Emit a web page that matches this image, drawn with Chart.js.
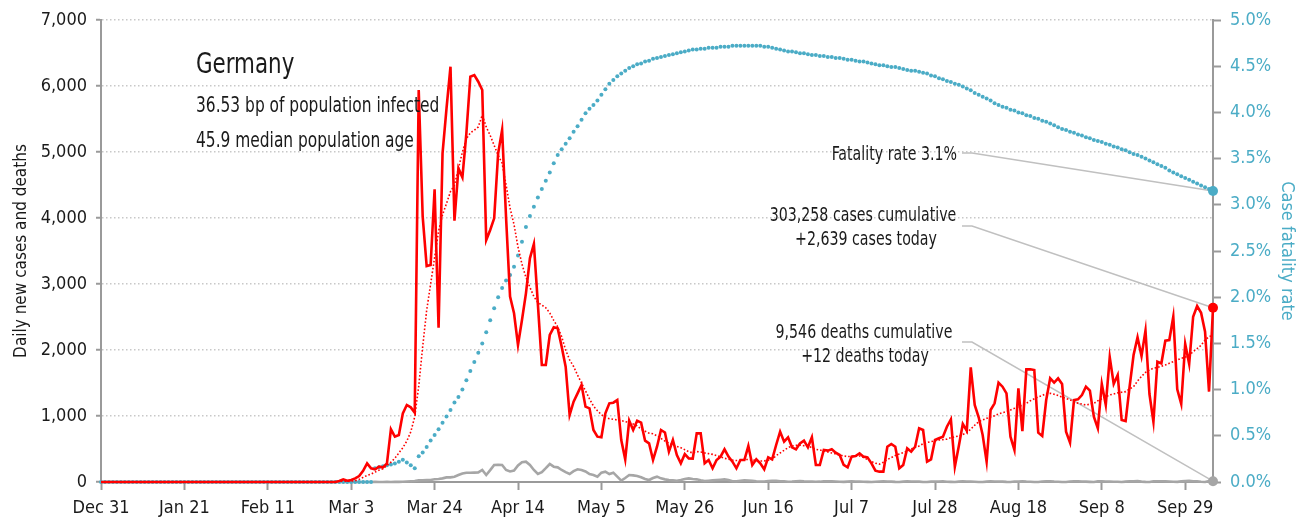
<!DOCTYPE html>
<html>
<head>
<meta charset="utf-8">
<script src="https://cdn.jsdelivr.net/npm/chart.js@4.4.1/dist/chart.umd.min.js"></script>
<style>
  html, body { margin: 0; padding: 0; background: #fff; }
  canvas { display: block; }
</style>
</head>
<body>
<canvas id="chart" width="1307" height="523"></canvas>
<script>
// x axis: day index counted from Dec 31
const tickDays   = [0, 21, 42, 63, 84, 105, 126, 147, 168, 189, 210, 231, 252, 273];
const tickLabels = ["Dec 31", "Jan 21", "Feb 11", "Mar 3", "Mar 24", "Apr 14", "May 5",
                    "May 26", "Jun 16", "Jul 7", "Jul 28", "Aug 18", "Sep 8", "Sep 29"];

// daily new cases, one value per day from Dec 31
const casesDaily = [
  0,0,0,0,0,0,0,0,0,0,
  0,0,0,0,0,0,0,0,0,0,
  0,0,0,0,0,0,0,0,0,0,
  0,0,0,0,0,0,0,0,0,0,
  0,0,0,0,0,0,0,0,0,0,
  0,0,0,0,0,0,0,0,0,0,
  15,40,20,30,55,90,170,283,207,192,
  232,222,283,798,687,712,1040,1167,1131,1050,
  5939,4020,3272,3288,4434,2338,4979,5661,6292,3959,
  4752,4616,5282,6141,6166,6065,5939,3666,3818,3995,
  4979,5333,4000,2808,2556,2076,2454,2858,3389,3606,
  2700,1773,1773,2227,2343,2328,2050,1747,1015,1217,
  1343,1470,1141,1116,788,687,677,1040,1192,1202,
  1242,636,343,929,788,929,899,626,586,333,
  535,788,750,460,636,409,283,424,358,353,
  737,737,283,333,207,333,384,495,384,308,
  207,333,333,545,258,343,283,192,374,343,
  561,763,611,677,525,495,586,626,525,677,
  258,258,485,475,495,444,409,258,222,384,
  394,434,384,374,283,172,157,157,535,576,
  535,207,258,510,460,535,813,788,308,343,
  636,662,687,838,949,232,545,879,778,1737,
  1167,980,712,308,1091,1192,1505,1444,1343,687,
  485,1419,770,1707,1707,1697,747,697,1242,1570,
  1505,1570,1485,763,596,1242,1252,1318,1444,1384,
  990,813,1485,1167,1889,1485,1621,939,924,1444,
  1924,2192,1909,2293,1333,914,1823,1798,2141,2151,
  2505,1404,1182,2091,1788,2505,2666,2565,2278,1369,
  2639
];

// 7-day average of new cases (dotted red)
const casesAvg = [
  null,null,null,null,null,null,0,0,0,0,
  0,0,0,0,0,0,0,0,0,0,
  0,0,0,0,0,0,0,0,0,0,
  0,0,0,0,0,0,0,0,0,0,
  0,0,0,0,0,0,0,0,0,0,
  0,0,0,0,0,0,0,0,0,0,
  5,8,12,15,20,40,70,100,120,150,
  180,200,250,300,360,440,520,620,760,990,
  1450,2050,2600,3000,3400,3800,4050,4220,4400,4500,
  4750,5000,5200,5290,5330,5380,5560,5380,5250,5100,
  4950,4830,4500,4150,3900,3560,3300,3100,2950,2810,
  2720,2680,2640,2560,2450,2350,2200,2000,1850,1750,
  1620,1500,1380,1260,1150,1080,1020,980,960,950,
  940,930,915,900,880,850,800,770,740,730,
  700,660,620,590,560,540,520,490,460,440,
  460,455,440,430,419,400,380,360,345,333,
  325,325,340,340,333,325,318,320,330,343,
  400,440,480,520,545,555,560,550,545,520,
  495,485,470,455,440,425,410,395,385,388,
  392,394,370,340,310,285,270,300,340,370,
  400,424,445,470,500,525,545,580,598,611,
  625,636,642,650,670,685,697,720,747,800,
  860,914,940,965,985,1005,1030,1050,1066,1090,
  1116,1140,1165,1192,1230,1260,1290,1310,1340,1343,
  1330,1310,1285,1265,1245,1220,1195,1180,1167,1180,
  1192,1230,1260,1290,1320,1333,1350,1360,1369,1410,
  1444,1530,1600,1660,1700,1722,1737,1755,1773,1800,
  1823,1850,1874,1890,1920,1975,2020,2070,2151,2200,
  2227
];

// daily deaths
const deathsDaily = [
  0,0,0,0,0,0,0,0,0,0,
  0,0,0,0,0,0,0,0,0,0,
  0,0,0,0,0,0,0,0,0,0,
  0,0,0,0,0,0,0,0,0,0,
  0,0,0,0,0,0,0,0,0,0,
  0,0,0,0,0,0,0,0,0,0,
  0,0,0,0,0,0,0,0,0,2,
  0,1,2,1,2,2,4,8,12,14,
  24,26,28,30,42,45,55,70,70,80,
  105,128,140,140,142,145,182,106,180,258,
  262,258,182,160,172,250,300,308,258,182,
  121,150,210,273,232,222,182,150,121,165,
  192,182,160,120,106,81,141,157,121,141,
  81,20,60,106,100,91,71,45,30,60,
  81,55,40,30,25,20,30,45,55,45,
  40,25,15,20,25,30,35,40,30,12,
  10,20,25,22,18,10,5,8,15,18,
  20,12,10,4,6,12,14,10,8,5,
  3,5,12,10,12,8,3,2,6,10,
  8,6,4,2,1,4,8,10,6,5,
  2,1,6,9,7,8,5,0,1,5,
  8,7,9,4,2,0,6,10,8,6,
  3,1,0,6,9,7,6,5,2,1,
  7,6,10,6,4,1,0,8,9,10,
  5,4,1,0,7,11,9,6,5,2,
  0,9,10,7,5,4,3,0,6,11,
  9,13,6,2,1,9,12,11,9,8,
  3,2,10,13,17,11,9,4,1,13,
  12
];

// case fatality rate, percent (right axis)
const fatalityPct = [
  0,0,0,0,0,0,0,0,0,0,
  0,0,0,0,0,0,0,0,0,0,
  0,0,0,0,0,0,0,0,0,0,
  0,0,0,0,0,0,0,0,0,0,
  0,0,0,0,0,0,0,0,0,0,
  0,0,0,0,0,0,0,0,0,0,
  0,0,0,0,0,0,0,0,0,0.15,
  0.16,0.17,0.18,0.19,0.20,0.22,0.24,0.21,0.18,0.15,
  0.28,0.32,0.38,0.45,0.51,0.57,0.64,0.71,0.78,0.86,
  0.92,1.00,1.10,1.20,1.30,1.40,1.50,1.62,1.75,1.88,
  2.00,2.10,2.18,2.24,2.33,2.45,2.60,2.76,2.88,2.98,
  3.08,3.17,3.26,3.35,3.45,3.54,3.60,3.66,3.72,3.79,
  3.85,3.92,3.99,4.04,4.08,4.13,4.19,4.25,4.31,4.35,
  4.39,4.42,4.45,4.48,4.50,4.52,4.53,4.55,4.56,4.58,
  4.59,4.60,4.61,4.62,4.63,4.64,4.65,4.66,4.67,4.68,
  4.68,4.69,4.69,4.70,4.70,4.70,4.71,4.71,4.71,4.72,
  4.72,4.72,4.72,4.72,4.72,4.72,4.72,4.71,4.71,4.70,
  4.69,4.68,4.67,4.66,4.66,4.65,4.64,4.64,4.63,4.62,
  4.62,4.61,4.61,4.60,4.60,4.59,4.59,4.58,4.57,4.57,
  4.56,4.55,4.55,4.54,4.53,4.52,4.51,4.51,4.50,4.49,
  4.49,4.48,4.47,4.46,4.45,4.45,4.44,4.43,4.42,4.40,
  4.39,4.37,4.36,4.34,4.33,4.31,4.30,4.28,4.26,4.24,
  4.21,4.19,4.17,4.15,4.13,4.10,4.08,4.06,4.05,4.03,
  4.02,4.00,3.99,3.97,3.96,3.94,3.93,3.91,3.90,3.88,
  3.86,3.84,3.82,3.81,3.79,3.78,3.76,3.75,3.73,3.72,
  3.70,3.69,3.68,3.66,3.65,3.63,3.62,3.60,3.59,3.57,
  3.55,3.54,3.52,3.50,3.48,3.46,3.44,3.42,3.40,3.37,
  3.35,3.33,3.31,3.29,3.27,3.25,3.23,3.21,3.19,3.17,
  3.15
];

const infoTitle = "Germany";
const infoLines = ["36.53 bp of population infected", "45.9 median population age"];
const noteFatality = ["Fatality rate 3.1%"];
const noteCases = ["303,258 cases cumulative", "+2,639 cases today"];
const noteDeaths = ["9,546 deaths cumulative", "+12 deaths today"];

const RED = "#ff0000", GREY = "#a6a6a6", TEAL = "#4bacc6", AXIS = "#9a9a9a", INK = "#1a1a1a";
const FONT = "'DejaVu Sans Condensed', 'Liberation Sans Narrow', sans-serif";
Chart.defaults.font.family = FONT;

const last = casesDaily.length - 1;
const pts = arr => arr.map((v, i) => ({x: i, y: v}));
const endDot = r => casesDaily.map((v, i) => i === last ? 5 : r);

// text squeezed sideways to look like the narrow face of the original
function narrowText(ctx, text, x, y, align, size, sx) {
  ctx.save();
  ctx.font = size + "px " + FONT;
  const w = ctx.measureText(text).width * sx;
  const x0 = align === "left" ? x : align === "right" ? x - w : x - w / 2;
  ctx.translate(x0, y);
  ctx.scale(sx, 1);
  ctx.textAlign = "left";
  ctx.textBaseline = "alphabetic";
  ctx.fillText(text, 0, 0);
  ctx.restore();
}

// leader lines + text notes
const notes = {
  id: "notes",
  beforeDatasetsDraw(chart) {
    const {ctx, scales: {x, y, y1}} = chart;
    const ex = x.getPixelForValue(last);
    const leaders = [
      [153, y1.getPixelForValue(fatalityPct[last])],
      [226, y.getPixelForValue(casesDaily[last])],
      [342, y.getPixelForValue(deathsDaily[last])]
    ];
    ctx.save();
    ctx.strokeStyle = "#c0c0c0";
    ctx.lineWidth = 1.5;
    leaders.forEach(([sy, ey]) => {
      ctx.beginPath();
      ctx.moveTo(962, sy);
      ctx.lineTo(972, sy);
      ctx.lineTo(ex, ey);
      ctx.stroke();
    });
    ctx.restore();
  },
  afterDraw(chart) {
    const ctx = chart.ctx;
    ctx.save();
    ctx.fillStyle = INK;
    narrowText(ctx, infoTitle, 196, 73, "left", 29, 0.82);
    narrowText(ctx, infoLines[0], 196, 112, "left", 22, 0.78);
    narrowText(ctx, infoLines[1], 196, 147, "left", 22, 0.78);

    narrowText(ctx, noteFatality[0], 957, 160, "right", 19, 0.83);
    narrowText(ctx, noteCases[0], 863, 221, "center", 19, 0.83);
    narrowText(ctx, noteCases[1], 866, 245, "center", 19, 0.83);
    narrowText(ctx, noteDeaths[0], 864, 338, "center", 19, 0.83);
    narrowText(ctx, noteDeaths[1], 865, 362, "center", 19, 0.83);
    ctx.restore();
  }
};

new Chart(document.getElementById("chart"), {
  type: "line",
  data: {
    datasets: [
      {
        label: "Daily new cases",
        data: pts(casesDaily),
        yAxisID: "y",
        borderColor: RED,
        borderWidth: 2.6,
        pointRadius: endDot(0),
        pointBackgroundColor: RED,
        pointBorderWidth: 0,
        tension: 0,
        clip: false
      },
      {
        label: "7-day average",
        data: pts(casesAvg),
        yAxisID: "y",
        borderColor: RED,
        borderWidth: 1.6,
        borderDash: [1.6, 2],
        pointRadius: 0,
        tension: 0
      },
      {
        label: "Case fatality rate",
        data: pts(fatalityPct),
        yAxisID: "y1",
        showLine: false,
        pointRadius: endDot(2),
        pointBackgroundColor: TEAL,
        pointBorderWidth: 0,
        clip: false
      },
      {
        label: "Daily deaths",
        data: pts(deathsDaily),
        yAxisID: "y",
        borderColor: GREY,
        borderWidth: 2.6,
        pointRadius: endDot(0),
        pointBackgroundColor: GREY,
        pointBorderWidth: 0,
        tension: 0,
        clip: false
      }
    ]
  },
  options: {
    responsive: false,
    devicePixelRatio: 1,
    animation: false,
    events: [],
    layout: {padding: {top: 20, right: 0, bottom: 0, left: 0}},
    plugins: {legend: {display: false}, tooltip: {enabled: false}},
    scales: {
      x: {
        type: "linear",
        min: 0,
        max: last,
        afterBuildTicks: s => { s.ticks = tickDays.map(v => ({value: v})); },
        afterFit: s => { s.height = 41; },
        ticks: {
          autoSkip: false,
          maxRotation: 0,
          padding: 8,
          color: INK,
          font: {size: 18},
          callback: v => tickLabels[tickDays.indexOf(v)]
        },
        grid: {drawOnChartArea: false, drawTicks: true, tickLength: 8, tickColor: AXIS, tickWidth: 2},
        border: {display: true, color: AXIS, width: 2}
      },
      y: {
        position: "left",
        min: 0,
        max: 7000,
        afterFit: s => { s.width = 101; },
        ticks: {
          stepSize: 1000,
          padding: 9,
          color: INK,
          font: {size: 18},
          callback: v => v.toLocaleString("en-US")
        },
        grid: {color: "#c8c8c8", lineWidth: 1.5, drawTicks: true, tickLength: 5, tickColor: AXIS, tickWidth: 2},
        border: {display: true, color: AXIS, width: 2, dash: [1.5, 2.5]},
        title: {display: true, text: "Daily new cases and deaths", color: INK,
                font: {size: 17}, padding: {top: 11, bottom: 0}}
      },
      y1: {
        position: "right",
        min: 0,
        max: 5,
        afterFit: s => { s.width = 94; },
        ticks: {
          stepSize: 0.5,
          padding: 9,
          color: TEAL,
          font: {size: 18},
          callback: v => v.toFixed(1) + "%"
        },
        grid: {drawOnChartArea: false, drawTicks: true, tickLength: 8, tickColor: AXIS, tickWidth: 2},
        border: {display: true, color: AXIS, width: 2},
        title: {display: true, text: "Case fatality rate", color: TEAL,
                font: {size: 18}, padding: {top: 10, bottom: 0}}
      }
    }
  },
  plugins: [notes]
});
</script>
</body>
</html>
